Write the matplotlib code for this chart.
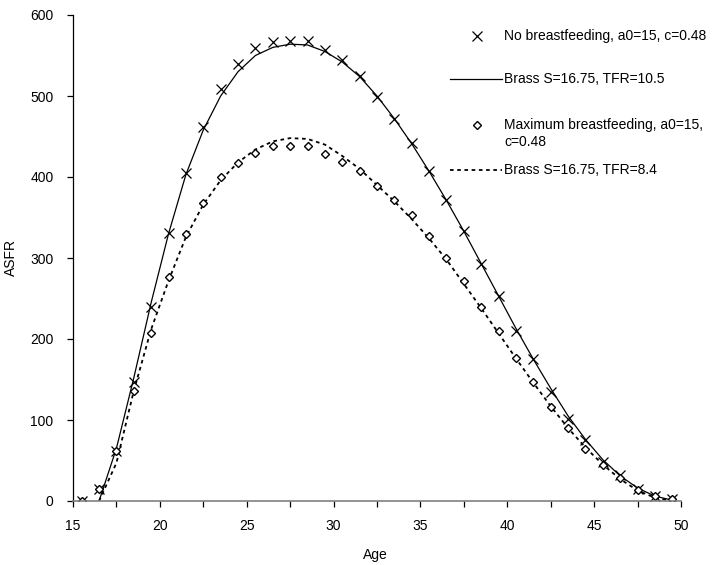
import matplotlib
matplotlib.use("Agg")
import matplotlib.pyplot as plt
from matplotlib.lines import Line2D
from matplotlib.ticker import MultipleLocator

plt.rcParams['font.family'] = ['Liberation Sans', 'DejaVu Sans']
plt.rcParams['font.size'] = 10

# observed ASFR points (single-year midpoints)
ages = [15.5, 16.5, 17.5, 18.5, 19.5, 20.5, 21.5, 22.5, 23.5, 24.5,
        25.5, 26.5, 27.5, 28.5, 29.5, 30.5, 31.5, 32.5, 33.5, 34.5,
        35.5, 36.5, 37.5, 38.5, 39.5, 40.5, 41.5, 42.5, 43.5, 44.5,
        45.5, 46.5, 47.5, 48.5, 49.5]
no_bf = [0, 15, 62, 147, 240, 331, 405, 462, 509, 540,
         559, 567, 568, 568, 557, 544, 525, 499, 472, 442,
         408, 371, 333, 292, 253, 210, 175, 135, 101, 75,
         48, 32, 15, 6, 3]
max_bf = [0, 15, 62, 136, 208, 277, 330, 368, 400, 417,
          430, 438, 438, 438, 429, 419, 408, 389, 372, 353,
          327, 300, 271, 240, 210, 176, 147, 116, 90, 64,
          44, 28, 14, 6, 3]

# Brass curves
brass_ages = ages[1:]
brass_hi = [0, 65, 152, 245, 330, 403, 458, 500, 530, 550,
            560, 564, 563, 555, 542, 524, 500, 472, 441, 407,
            371, 333, 293, 253, 213, 175, 139, 105, 76, 51,
            31, 16, 6, 1]
brass_lo = [0, 47, 136, 212, 272, 326, 366, 396, 418, 434,
            444, 448, 447, 440, 426, 410, 390, 370, 348, 324,
            298, 268, 238, 207, 176, 146, 117, 90, 66, 45,
            27, 13, 4, 0]

labels = ["No breastfeeding, a0=15, c=0.48",
          "Brass S=16.75, TFR=10.5",
          "Maximum breastfeeding, a0=15,\nc=0.48",
          "Brass S=16.75, TFR=8.4"]

W, H = 726, 565
fig = plt.figure(figsize=(W / 100, H / 100), dpi=100)
ax = fig.add_axes([73 / W, 1 - 501 / H, 608 / W, 486 / H])

dot_style = (0, (2, 2))
ax.plot(brass_ages, brass_hi, color='black', lw=0.9)
ax.plot(brass_ages, brass_lo, color='black', lw=1.3, linestyle=dot_style)
ax.plot(ages, no_bf, linestyle='none', marker='x', ms=6.5, mew=0.9, color='black')
ax.plot(ages, max_bf, linestyle='none', marker='D', ms=4.4, mew=1.0,
        mfc='white', mec='black')

ax.set_xlim(15, 50)
ax.set_ylim(0, 600)
ax.xaxis.set_major_locator(MultipleLocator(5))
ax.xaxis.set_minor_locator(MultipleLocator(2.5))
ax.yaxis.set_major_locator(MultipleLocator(100))

for side in ('top', 'right'):
    ax.spines[side].set_visible(False)
ax.spines['bottom'].set_color('#808080')
ax.spines['bottom'].set_linewidth(1.2)
ax.spines['left'].set_linewidth(0.9)
ax.tick_params(axis='x', which='both', direction='out', length=4, width=0.9, pad=9)
ax.tick_params(axis='y', which='both', direction='out', length=4, width=0.9, pad=10)

ax.set_xlabel("Age")
ax.set_ylabel("ASFR")
ax.xaxis.set_label_coords(0.497, -0.097)
ax.yaxis.set_label_coords(-0.09, 0.5)

# legend drawn by hand to follow the original spacing
def fx(px):
    return px / W

def fy(py):
    return 1 - py / H

handles = [
    Line2D([fx(477)], [fy(36)], marker='x', ms=6.5, mew=0.9, color='black', linestyle='none'),
    Line2D([fx(450), fx(502)], [fy(79), fy(79)], color='black', lw=0.9),
    Line2D([fx(477)], [fy(125)], marker='D', ms=4.4, mew=1.0, mfc='white', mec='black',
           linestyle='none'),
    Line2D([fx(450), fx(502)], [fy(170), fy(170)], color='black', lw=1.3, linestyle=dot_style),
]
for h in handles:
    h.set_transform(fig.transFigure)
    fig.add_artist(h)

label_y = [36, 79, 133.5, 170]
for lab, py in zip(labels, label_y):
    fig.text(fx(504), fy(py), lab, ha='left', va='center', linespacing=1.3)

fig.savefig("out.png", dpi=100)
